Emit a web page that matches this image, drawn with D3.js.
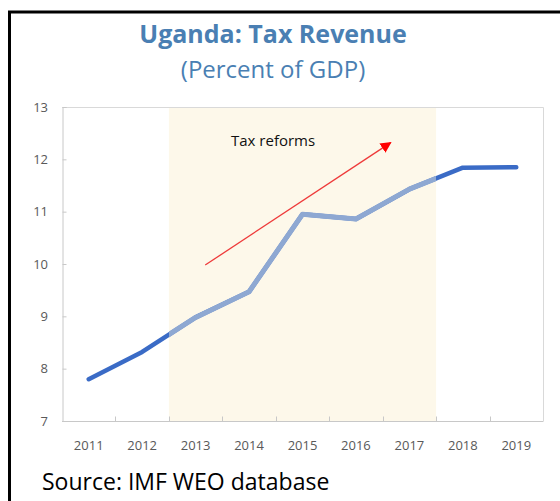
<!DOCTYPE html>
<html>
<head>
<meta charset="utf-8">
<script src="https://cdn.jsdelivr.net/npm/d3@7"></script>
<style>
  body { margin: 0; background: #fff; }
  svg { display: block; }
</style>
</head>
<body>
<script>
// data
var years = ["2011", "2012", "2013", "2014", "2015", "2016", "2017", "2018", "2019"];
var taxRevenue = [7.8, 8.32, 8.98, 9.47, 10.95, 10.86, 11.43, 11.84, 11.85];
var yTicks = [7, 8, 9, 10, 11, 12, 13];
var reformYears = ["2013", "2017"];
// arrow: [year position, value]
var arrowFrom = [2013.18, 9.98];
var arrowTo = [2016.65, 12.32];

var width = 560, height = 501;
var margin = { top: 107, right: 17, bottom: 80, left: 62 };

var svg = d3.select("body").append("svg")
    .attr("width", width)
    .attr("height", height);

var x = d3.scaleBand()
    .domain(years)
    .range([margin.left, width - margin.right]);

var xLin = d3.scaleLinear()
    .domain([2010.5, 2019.5])
    .range([margin.left, width - margin.right]);

var y = d3.scaleLinear()
    .domain([7, 13])
    .range([height - margin.bottom, margin.top]);

// frame (left + top)
svg.append("path")
    .attr("d", "M9.5," + height + "V12H" + width)
    .attr("fill", "none")
    .attr("stroke", "#000")
    .attr("stroke-width", 3);

// titles
svg.append("text")
    .attr("x", 273)
    .attr("y", 43)
    .attr("text-anchor", "middle")
    .attr("font-family", "'Open Sans', sans-serif")
    .attr("font-weight", "bold")
    .attr("font-size", 25)
    .attr("fill", "#4a7fb3")
    .text("Uganda: Tax Revenue");

svg.append("text")
    .attr("x", 273)
    .attr("y", 78)
    .attr("text-anchor", "middle")
    .attr("font-family", "'Open Sans', sans-serif")
    .attr("font-size", 24)
    .attr("fill", "#4a7fb3")
    .text("(Percent of GDP)");

// reform band
var bandX0 = x(reformYears[0]);
var bandX1 = x(reformYears[1]) + x.bandwidth();
svg.append("rect")
    .attr("x", bandX0)
    .attr("y", y(13))
    .attr("width", bandX1 - bandX0)
    .attr("height", y(7) - y(13))
    .attr("fill", "#fdf8ea");

// plot box top/right
svg.append("path")
    .attr("d", "M" + margin.left + "," + (y(13) + 0.5) + "H" + (width - margin.right + 0.5) + "V" + y(7))
    .attr("fill", "none")
    .attr("stroke", "#d9d9d9")
    .attr("stroke-width", 1);

// y axis
var yAxis = svg.append("g")
    .attr("transform", "translate(" + (margin.left + 0.5) + ",0)")
    .call(d3.axisRight(y).tickValues(yTicks).tickSize(4).tickFormat(""));
yAxis.select(".domain").attr("stroke", "#c8c8c8");
yAxis.selectAll(".tick line").attr("stroke", "#c8c8c8");

svg.selectAll(".ylab")
    .data(yTicks)
    .join("text")
    .attr("class", "ylab")
    .attr("x", 48)
    .attr("y", function (d) { return y(d) + 4.5; })
    .attr("text-anchor", "end")
    .attr("font-family", "'Liberation Sans Narrow', 'Open Sans', sans-serif")
    .attr("font-size", 13)
    .attr("fill", "#595959")
    .text(function (d) { return d; });

// x axis (ticks at band boundaries)
var xAxisG = svg.append("g")
    .attr("transform", "translate(0," + (y(7) + 0.5) + ")");
xAxisG.append("line")
    .attr("x1", margin.left)
    .attr("x2", width - margin.right + 0.5)
    .attr("stroke", "#c8c8c8");
xAxisG.selectAll(".tk")
    .data(years.slice(1))
    .join("line")
    .attr("class", "tk")
    .attr("x1", function (d) { return Math.round(x(d)) + 0.5; })
    .attr("x2", function (d) { return Math.round(x(d)) + 0.5; })
    .attr("y1", 0)
    .attr("y2", -5)
    .attr("stroke", "#c8c8c8");
xAxisG.selectAll(".xlab")
    .data(years)
    .join("text")
    .attr("class", "xlab")
    .attr("x", function (d) { return x(d) + x.bandwidth() / 2; })
    .attr("y", 28)
    .attr("text-anchor", "middle")
    .attr("font-family", "'Liberation Sans Narrow', 'Open Sans', sans-serif")
    .attr("font-size", 13)
    .attr("fill", "#595959")
    .text(function (d) { return d; });

// series line
var pts = years.map(function (d, i) { return [x(d) + x.bandwidth() / 2, y(taxRevenue[i])]; });
var line = d3.line();

svg.append("clipPath").attr("id", "inBand")
    .append("rect")
    .attr("x", bandX0).attr("y", 0)
    .attr("width", bandX1 - bandX0).attr("height", height);

svg.append("path")
    .attr("d", line(pts))
    .attr("fill", "none")
    .attr("stroke", "#3a6bc6")
    .attr("stroke-width", 4.5)
    .attr("stroke-linecap", "round")
    .attr("stroke-linejoin", "round");

// lighter part over the reform band
svg.append("path")
    .attr("d", line(pts))
    .attr("clip-path", "url(#inBand)")
    .attr("fill", "none")
    .attr("stroke", "#8ea8d2")
    .attr("stroke-width", 5)
    .attr("stroke-linejoin", "round");

// arrow
svg.append("defs").append("marker")
    .attr("id", "head")
    .attr("viewBox", "0 0 10 10")
    .attr("refX", 9)
    .attr("refY", 5)
    .attr("markerUnits", "userSpaceOnUse")
    .attr("markerWidth", 11)
    .attr("markerHeight", 11)
    .attr("orient", "auto")
    .append("path")
    .attr("d", "M0,0L10,5L0,10Z")
    .attr("fill", "#ff0000");

svg.append("line")
    .attr("x1", xLin(arrowFrom[0]))
    .attr("y1", y(arrowFrom[1]))
    .attr("x2", xLin(arrowTo[0]))
    .attr("y2", y(arrowTo[1]))
    .attr("stroke", "#ee3a3a")
    .attr("stroke-width", 1.3)
    .attr("marker-end", "url(#head)");

svg.append("text")
    .attr("x", 231)
    .attr("y", 146)
    .attr("font-family", "'Open Sans', sans-serif")
    .attr("font-size", 15)
    .attr("fill", "#111")
    .text("Tax reforms");

// source
svg.append("text")
    .attr("x", 42)
    .attr("y", 490)
    .attr("font-family", "'Open Sans', sans-serif")
    .attr("font-size", 23)
    .attr("fill", "#000")
    .text("Source: IMF WEO database");
</script>
</body>
</html>
